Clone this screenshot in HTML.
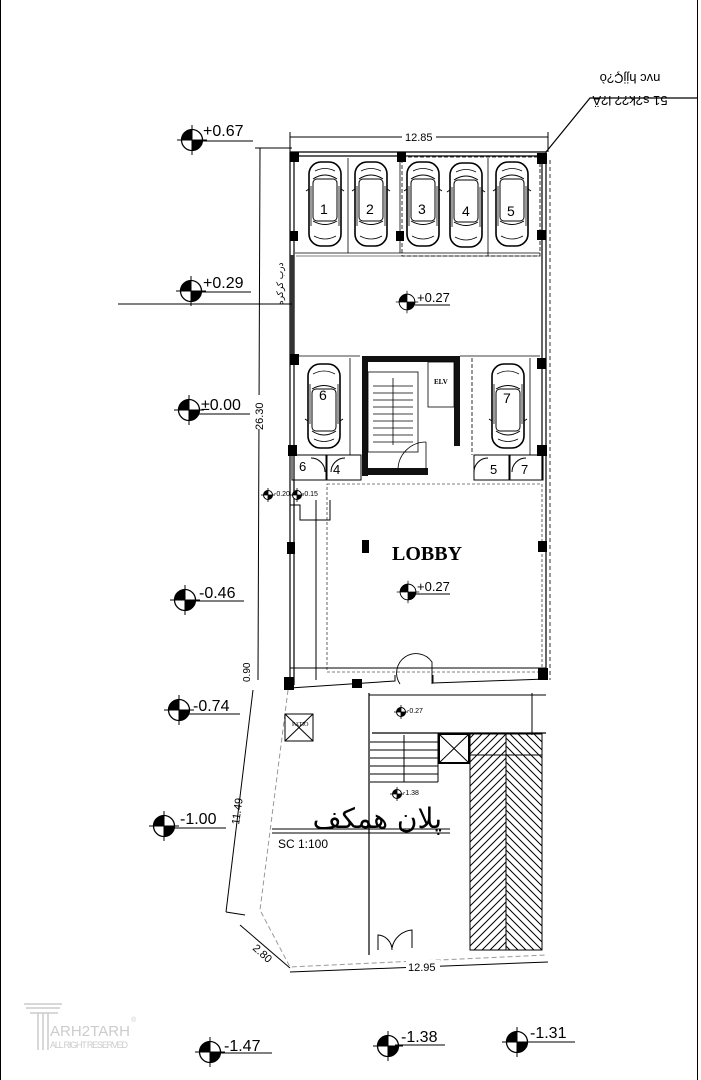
<!DOCTYPE html>
<html><head><meta charset="utf-8"><style>
html,body{margin:0;padding:0;background:#fff}
svg{display:block}
text{font-family:"Liberation Sans","Noto Sans CJK SC",sans-serif;fill:#000}
</style></head><body>
<svg width="701" height="1080" viewBox="0 0 701 1080" xmlns="http://www.w3.org/2000/svg">
<defs>
<g id="mk">
<circle cx="0" cy="0" r="10.5" fill="#fff" stroke="#000" stroke-width="1.3"/>
<path d="M0 0 L-10.5 0 A10.5 10.5 0 0 1 0 -10.5 Z" fill="#000"/>
<path d="M0 0 L10.5 0 A10.5 10.5 0 0 1 0 10.5 Z" fill="#000"/>
<line x1="-15" y1="0" x2="15" y2="0" stroke="#000" stroke-width="1"/>
<line x1="0" y1="-15" x2="0" y2="15" stroke="#000" stroke-width="1"/>
</g>
<g id="mks">
<circle r="4.5" fill="#fff" stroke="#000"/>
<path d="M0 0 L-4.5 0 A4.5 4.5 0 0 1 0 -4.5Z M0 0 L4.5 0 A4.5 4.5 0 0 1 0 4.5Z" fill="#000"/>
<line x1="-7" x2="7" stroke="#000" stroke-width=".8"/><line y1="-7" y2="7" stroke="#000" stroke-width=".8"/>
</g>
<g id="car">
<rect x="-16" y="-42" width="32" height="84" rx="12" fill="#fff" stroke="#000" stroke-width="1.6"/>
<rect x="-12" y="-25" width="24" height="42" rx="4" fill="none" stroke="#000" stroke-width="1"/>
<path d="M-12 -25 Q0 -33 12 -25 M-12 17 Q0 24 12 17 M-16 -15 L-19 -13 M16 -15 L19 -13" fill="none" stroke="#000" stroke-width="1"/>
<path d="M-10 -33 Q0 -38 10 -33 M-11 32 Q0 38 11 32" fill="none" stroke="#000" stroke-width=".8"/>
<line x1="-14" y1="-18" x2="-14" y2="22" stroke="#000" stroke-width=".8"/>
<line x1="14" y1="-18" x2="14" y2="22" stroke="#000" stroke-width=".8"/>
</g>
<pattern id="hl" width="8" height="8" patternUnits="userSpaceOnUse"><path d="M0 8 L8 0 M-2 2 L2 -2 M6 10 L10 6" stroke="#000" stroke-width="1"/></pattern>
<pattern id="hr" width="8" height="8" patternUnits="userSpaceOnUse"><path d="M0 0 L8 8 M-2 6 L2 10 M6 -2 L10 2" stroke="#000" stroke-width="1"/></pattern>
</defs>

<!-- page edges -->
<line x1="0.5" y1="0" x2="0.5" y2="1080" stroke="#000" stroke-width="1"/>
<line x1="697.5" y1="0" x2="697.5" y2="1080" stroke="#000" stroke-width="1"/>

<!-- top right note -->
<polyline points="546,152 590,98 697,98" fill="none" stroke="#000" stroke-width="1.2"/>
<text x="630" y="84" font-size="13" text-anchor="middle" transform="rotate(180 630 79)">nvc hjjÇ?ò</text>
<text x="630" y="106" font-size="13" text-anchor="middle" transform="rotate(180 630 101)">51 s?k?? l?Ä</text>

<!-- top dimension 12.85 -->
<line x1="290" y1="137" x2="548" y2="137" stroke="#000"/>
<line x1="290" y1="132" x2="290" y2="152" stroke="#000"/>
<line x1="548" y1="132" x2="548" y2="152" stroke="#000"/>
<rect x="402" y="130" width="34" height="12" fill="#fff"/>
<text x="405" y="141" font-size="11">12.85</text>

<!-- 26.30 dim -->
<line x1="260" y1="148" x2="258" y2="680" stroke="#000"/>
<line x1="255" y1="148" x2="292" y2="148" stroke="#000"/>
<rect x="252" y="395" width="12" height="34" fill="#fff"/>
<text x="263" y="430" font-size="11" transform="rotate(-90 263 430)">26.30</text>
<text x="250" y="682" font-size="10" transform="rotate(-90 250 682)">0.90</text>

<!-- outer walls -->
<g stroke="#000" fill="none" stroke-width="1.2">
<line x1="290" y1="152" x2="290" y2="690"/>
<line x1="294" y1="152" x2="294" y2="685"/>
<line x1="546" y1="152" x2="546" y2="680"/>
<line x1="550" y1="160" x2="550" y2="680" stroke-dasharray="4 3" stroke-width=".8"/>
<line x1="290" y1="152" x2="546" y2="152"/>
<line x1="294" y1="156" x2="542" y2="156"/>
<line x1="542" y1="156" x2="542" y2="480"/>
</g>
<rect x="290" y="255" width="4" height="100" fill="#333"/>
<text x="283" y="305" font-size="9" transform="rotate(-90 283 305)">درب کرکره</text>

<!-- columns -->
<g fill="#000">
<rect x="290" y="152" width="9" height="10"/><rect x="397" y="152" width="9" height="10"/><rect x="537" y="153" width="10" height="11"/>
<rect x="290" y="231" width="8" height="10"/><rect x="396" y="231" width="8" height="10"/><rect x="537" y="230" width="9" height="10"/>
<rect x="290" y="354" width="9" height="11"/><rect x="537" y="358" width="9" height="11"/>
<rect x="288" y="445" width="9" height="11"/><rect x="537" y="445" width="10" height="11"/>
<rect x="287" y="542" width="8" height="12"/><rect x="362" y="540" width="7" height="13"/><rect x="538" y="541" width="9" height="11"/>
<rect x="284" y="677" width="10" height="13"/><rect x="352" y="679" width="10" height="9"/><rect x="538" y="668" width="10" height="12"/>
</g>

<!-- parking top -->
<g stroke="#000" fill="none" stroke-width=".8">
<line x1="295" y1="253" x2="540" y2="253"/>
<line x1="348" y1="158" x2="348" y2="253"/>
<line x1="400" y1="158" x2="400" y2="253"/>
<line x1="488" y1="158" x2="488" y2="256"/>
<rect x="402" y="157" width="138" height="99" stroke-dasharray="4 2"/>
<line x1="296" y1="256" x2="540" y2="256" stroke-width=".6"/>
</g>
<use href="#car" x="325" y="204"/><use href="#car" x="371" y="204"/><use href="#car" x="423" y="204"/><use href="#car" x="466" y="205"/><use href="#car" x="512" y="204"/>
<g font-size="14"><text x="320" y="214">1</text><text x="366" y="214">2</text><text x="418" y="214">3</text><text x="462" y="216">4</text><text x="507" y="216">5</text></g>
<use href="#mk" transform="translate(407 302) scale(.75)"/>
<text x="417" y="302" font-size="13">+0.27</text>
<line x1="415" y1="305" x2="450" y2="305" stroke="#000"/>

<!-- mid parking -->
<g stroke="#000" fill="none" stroke-width=".8">
<line x1="295" y1="356" x2="360" y2="356"/>
<line x1="350" y1="358" x2="350" y2="455"/>
<line x1="472" y1="358" x2="472" y2="455" stroke-dasharray="4 2"/>
<line x1="460" y1="356" x2="540" y2="356"/>
<line x1="530" y1="358" x2="530" y2="455"/>
</g>
<use href="#car" x="324" y="406" transform="rotate(180 324 406)"/>
<use href="#car" x="508" y="406" transform="rotate(180 508 406)"/>
<text x="319" y="400" font-size="14">6</text><text x="503" y="403" font-size="14">7</text>

<!-- stair core -->
<g fill="#111">
<rect x="362" y="356" width="6" height="120"/>
<rect x="362" y="356" width="98" height="6"/>
<rect x="454" y="356" width="6" height="90"/>
<rect x="362" y="468" width="66" height="7"/>
</g>
<g stroke="#000" stroke-width=".8" fill="none">
<rect x="368" y="372" width="50" height="80"/>
<line x1="393" y1="378" x2="393" y2="445"/>
<path d="M373 386h40M373 393h40M373 400h40M373 407h40M373 414h40M373 421h40M373 428h40M373 435h40M373 442h40"/>
<rect x="428" y="362" width="26" height="45"/>
<path d="M398 470 A28 28 0 0 1 426 442"/>
<line x1="426" y1="442" x2="426" y2="470"/>
</g>
<text x="434" y="384" font-size="7" style="font-family:'Liberation Serif',serif;font-weight:bold">ELV</text>

<!-- storage rooms -->
<g stroke="#000" stroke-width="1" fill="none">
<rect x="292" y="455" width="34" height="25"/><rect x="327" y="455" width="34" height="25"/>
<rect x="474" y="455" width="35" height="25"/><rect x="510" y="455" width="33" height="25"/>
<path d="M311 458 A14 14 0 0 1 325 472 M345 458 A14 14 0 0 0 331 472 M488 458 A14 14 0 0 0 474 472 M526 458 A14 14 0 0 0 512 472"/>
</g>
<g font-size="13"><text x="299" y="471">6</text><text x="333" y="474">4</text><text x="490" y="474">5</text><text x="521" y="474">7</text></g>

<!-- lobby -->
<g stroke="#000" fill="none" stroke-width="1">
<rect x="327" y="484" width="215" height="188" stroke-dasharray="3 2" stroke-width=".6"/>
<path d="M290 505 H300 V520 H330 V500"/>
<line x1="316" y1="500" x2="316" y2="680"/>
<line x1="290" y1="668" x2="546" y2="668"/>
<path d="M290 688 L395 681 L395 675 M433 675 L433 683 L546 679"/>
<path d="M400 684 A18 18 0 0 1 432 662 L432 684" stroke-width=".9"/>
</g>
<use href="#mks" x="268" y="495"/><text x="274" y="496" font-size="7">-0.20</text>
<use href="#mks" x="297" y="495"/><text x="302" y="496" font-size="7">-0.15</text>
<text x="392" y="560" style="font-family:'Liberation Serif',serif;font-weight:bold;font-size:20px">LOBBY</text>
<use href="#mk" transform="translate(408 592) scale(.75)"/>
<text x="417" y="591" font-size="13">+0.27</text>
<line x1="415" y1="594" x2="450" y2="594" stroke="#000"/>

<!-- lower area -->
<g stroke="#000" fill="none">
<polyline points="288,690 260,910 290,967 546,955" stroke="#999" stroke-dasharray="5 3"/>
<line x1="253" y1="690" x2="226" y2="912"/>
<line x1="226" y1="912" x2="245" y2="915"/>
<line x1="240" y1="925" x2="290" y2="968"/>
<line x1="290" y1="972" x2="548" y2="962"/>
<line x1="369" y1="693" x2="369" y2="955" stroke-width="1.2"/>
<line x1="369" y1="695" x2="546" y2="695"/>
<line x1="532" y1="693" x2="532" y2="735"/>
<line x1="372" y1="733" x2="546" y2="733" stroke-width="1.2"/>
<path d="M370 742h68M370 750h68M370 758h68M370 766h68M370 774h68"/>
<line x1="370" y1="782" x2="438" y2="782"/>
<line x1="438" y1="733" x2="438" y2="782"/>
<line x1="404" y1="735" x2="404" y2="782"/>
<rect x="439" y="734" width="30" height="29" stroke-width="2"/>
<path d="M439 734 L469 763 M469 734 L439 763"/>
<rect x="285" y="714" width="28" height="27"/>
<path d="M285 714 L313 741 M313 714 L285 741"/>
<path d="M378 950 L378 935 A15 15 0 0 1 392 950 M412 948 L412 930 A22 22 0 0 0 392 948"/>
</g>
<rect x="470" y="734" width="36" height="216" fill="url(#hl)" stroke="#000"/>
<rect x="506" y="734" width="36" height="216" fill="url(#hr)" stroke="#000"/>
<line x1="470" y1="755" x2="542" y2="755" stroke="#000"/>
<text x="292" y="726" font-size="6" style="font-family:'Liberation Serif',serif">PATIO</text>
<use href="#mks" x="401" y="712"/><text x="407" y="713" font-size="7">-0.27</text>
<use href="#mks" x="397" y="794"/><text x="403" y="795" font-size="7">-1.38</text>
<text x="442" y="828" text-anchor="start" direction="rtl" style="font-family:'DejaVu Sans','Noto Sans CJK SC',sans-serif;font-size:28px">پلان همکف</text>
<line x1="272" y1="829" x2="450" y2="829" stroke="#000"/>
<line x1="272" y1="833" x2="450" y2="833" stroke="#000"/>
<text x="278" y="848" font-size="12">SC 1:100</text>
<text x="239" y="825" font-size="11" transform="rotate(-82 239 825)">11.49</text>
<text x="252" y="949" font-size="11" transform="rotate(42 252 949)">2.80</text>
<rect x="406" y="960" width="34" height="12" fill="#fff"/>
<text x="408" y="971" font-size="11">12.95</text>

<!-- elevation markers -->
<g font-size="16">
<use href="#mk" x="192" y="140"/><text x="203" y="136">+0.67</text><line x1="199" y1="141" x2="253" y2="141" stroke="#000"/>
<use href="#mk" x="191" y="291"/><text x="203" y="288">+0.29</text><line x1="199" y1="292" x2="251" y2="292" stroke="#000"/><line x1="118" y1="304" x2="292" y2="304" stroke="#000"/>
<use href="#mk" x="189" y="410"/><text x="201" y="410">±0.00</text><line x1="197" y1="414" x2="250" y2="414" stroke="#000"/>
<use href="#mk" x="185" y="600"/><text x="199" y="598">-0.46</text><line x1="193" y1="601" x2="244" y2="601" stroke="#000"/>
<use href="#mk" x="179" y="710"/><text x="193" y="711">-0.74</text><line x1="186" y1="714" x2="240" y2="714" stroke="#000"/>
<use href="#mk" x="164" y="826"/><text x="180" y="824">-1.00</text><line x1="172" y1="828" x2="226" y2="828" stroke="#000"/>
<use href="#mk" x="210" y="1052"/><text x="224" y="1051">-1.47</text><line x1="218" y1="1053" x2="272" y2="1053" stroke="#000"/>
<use href="#mk" x="388" y="1046"/><text x="401" y="1042">-1.38</text><line x1="395" y1="1045" x2="445" y2="1045" stroke="#000"/>
<use href="#mk" x="517" y="1042"/><text x="530" y="1038">-1.31</text><line x1="524" y1="1042" x2="575" y2="1042" stroke="#000"/>
</g>

<!-- watermark -->
<g stroke="#ccc" fill="none" stroke-width="1.5">
<path d="M24 1004 H62 M26 1008 H60 M30 1013 H58"/>
<path d="M38 1013 V1050 M43 1013 V1050 M48 1013 V1050"/>
</g>
<text x="50" y="1036" font-size="15" style="fill:#ccc" textLength="80">ARH2TARH</text>
<text x="50" y="1048" font-size="9" style="fill:#ccc" textLength="78">ALL RIGHT RESERVED</text>
<text x="131" y="1022" font-size="7" style="fill:#ccc">®</text>
</svg>
</body></html>
